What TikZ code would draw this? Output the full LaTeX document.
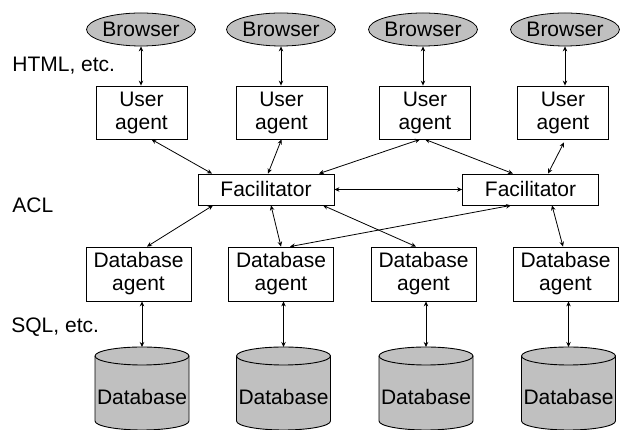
\documentclass[tikz,border=0pt]{standalone}
\usepackage{fontspec}
\setmainfont{Liberation Sans}
\usetikzlibrary{shapes.geometric,arrows.meta}
\definecolor{shade}{RGB}{192,192,192}
\tikzset{
  every node/.style={font=\fontsize{21}{23}\selectfont},
  browser/.style={ellipse,draw,fill=shade,minimum width=108pt,minimum height=33pt,inner sep=0pt},
  uabox/.style={rectangle,draw,fill=white,minimum width=91pt,minimum height=53pt,inner sep=0pt,align=center},
  facbox/.style={rectangle,draw,fill=white,minimum width=136pt,minimum height=31pt,inner sep=0pt},
  dbabox/.style={rectangle,draw,fill=white,minimum width=105pt,minimum height=54pt,inner sep=0pt,align=center},
  cyl/.style={draw,fill=shade,line width=0.9pt},
  lbl/.style={anchor=west,inner sep=0pt},
  link/.style={<->,line width=0.8pt,>={Stealth[length=5pt,width=4.5pt]}},
}
\newcommand{\dbcyl}[2]{%
  \path[cyl] (#1-47,74) -- (#1-47,9) arc[start angle=180,end angle=360,x radius=47,y radius=9] -- (#1+47,74) arc[start angle=0,end angle=180,x radius=47,y radius=9] -- cycle;
  \draw[line width=0.9pt] (#1-47,74) arc[start angle=180,end angle=360,x radius=47,y radius=9];
  \node[inner sep=0pt] (#2) at (#1,33) {Database};
  \coordinate (#2top) at (#1,83);
}
\begin{document}
\begin{tikzpicture}[x=1pt,y=1pt,line width=0.8pt]
\useasboundingbox (0,0) rectangle (624,430);
% labels
\node[lbl] (lhtml) at (12,364) {HTML, etc.};
\node[lbl] (lacl) at (12,225) {ACL};
\node[lbl] (lsql) at (11,103) {SQL, etc.};
% browsers
\node[browser] (b1) at (141,400.5) {Browser};
\node[browser] (b2) at (281,400.5) {Browser};
\node[browser] (b3) at (423,400.5) {Browser};
\node[browser] (b4) at (565,400.5) {Browser};
% user agents
\node[uabox] (ua1) at (141.5,317.5) {User\\agent};
\node[uabox] (ua2) at (281.5,317.5) {User\\agent};
\node[uabox] (ua3) at (425,317.5) {User\\agent};
\node[uabox] (ua4) at (563,317.5) {User\\agent};
% facilitators
\node[facbox] (f1) at (266,240.5) {Facilitator};
\node[facbox] (f2) at (530.5,240.5) {Facilitator};
% database agents
\node[dbabox] (d1) at (138.5,156) {Database\\agent};
\node[dbabox] (d2) at (281,156) {Database\\agent};
\node[dbabox] (d3) at (423.5,156) {Database\\agent};
\node[dbabox] (d4) at (565.5,156) {Database\\agent};
% databases
\dbcyl{142}{c1}
\dbcyl{283.5}{c2}
\dbcyl{426}{c3}
\dbcyl{568.5}{c4}
% browser links
\draw[link] (b1.south) -- (b1.south |- ua1.north);
\draw[link] (b2.south) -- (b2.south |- ua2.north);
\draw[link] (b3.south) -- (b3.south |- ua3.north);
\draw[link] (b4.south) -- (b4.south |- ua4.north);
% user agent - facilitator
\draw[link] ([xshift=10pt]ua1.south) -- ([xshift=-54pt]f1.north);
\draw[link] (ua2.south) -- ([xshift=2pt]f1.north);
\draw[link] ([xshift=-5pt]ua3.south) -- ([xshift=53pt]f1.north);
\draw[link] (ua3.south) -- ([xshift=-17.5pt]f2.north);
\draw[link] ([xshift=1pt,yshift=-3pt]ua4.south) -- ([xshift=17.5pt]f2.north);
% facilitator - facilitator
\draw[link] (f1.east) -- (f2.west);
% facilitator - database agents
\draw[link] ([xshift=-53pt]f1.south) -- ([xshift=8.5pt]d1.north);
\draw[link] ([xshift=5pt]f1.south) -- (d2.north);
\draw[link] ([xshift=57pt]f1.south) -- ([xshift=-7.5pt]d3.north);
\draw[link] ([xshift=-19.5pt]f2.south) -- ([xshift=9pt]d2.north);
\draw[link] ([xshift=21.5pt]f2.south) -- ([xshift=-2.5pt]d4.north);
% database agent - databases
\draw[link] (c1top |- d1.south) -- (c1top);
\draw[link] (c2top |- d2.south) -- (c2top);
\draw[link] (c3top |- d3.south) -- (c3top);
\draw[link] (c4top |- d4.south) -- (c4top);
\end{tikzpicture}
\end{document}
